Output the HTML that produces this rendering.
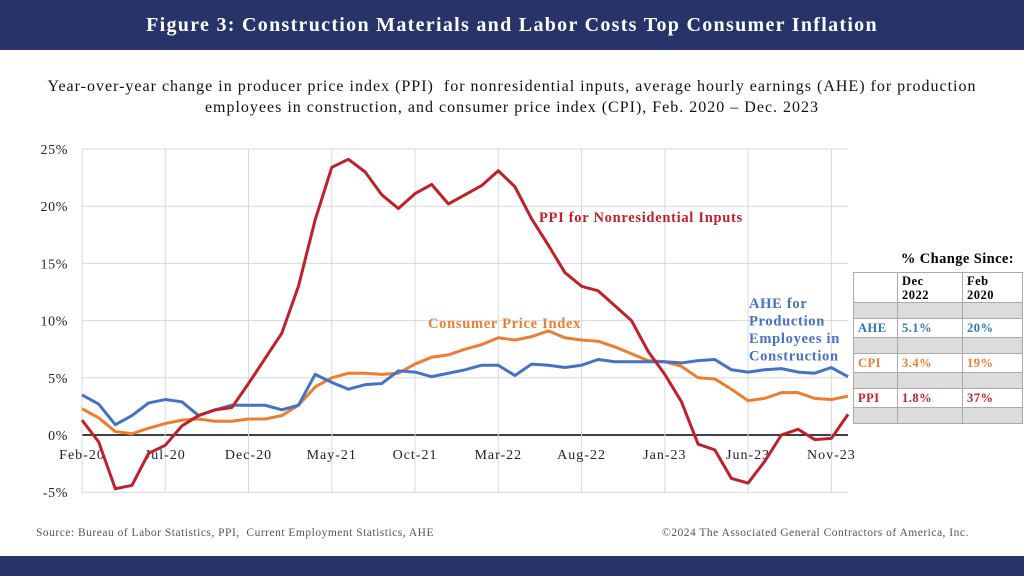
<!DOCTYPE html>
<html><head><meta charset="utf-8">
<style>
body{margin:0;width:1024px;height:576px;background:#fff;position:relative;overflow:hidden;font-family:"Liberation Serif",serif;}
.hdr{position:absolute;left:0;top:0;width:1024px;height:50px;background:#273469;color:#fff;font-weight:bold;font-size:20px;letter-spacing:1.3px;text-align:center;line-height:50px;}
.ftr{position:absolute;left:0;top:556px;width:1024px;height:20px;background:#273469;}
.sub{position:absolute;left:0;top:76px;width:1024px;text-align:center;font-size:16px;letter-spacing:1px;line-height:21px;color:#111;}
.src{position:absolute;top:527px;font-size:11.5px;letter-spacing:0.5px;color:#555;}
table{position:absolute;left:853px;top:272px;border-collapse:collapse;font-size:12.5px;letter-spacing:0.5px;font-weight:bold;}
td{border:1px solid #aaa;padding:0 4px;height:15px;}
.g td{background:#dcdcdc;}
</style></head><body>
<div class="hdr">Figure 3: Construction Materials and Labor Costs Top Consumer Inflation</div>
<div class="sub">Year-over-year change in producer price index (PPI)&nbsp; for nonresidential inputs, average hourly earnings (AHE) for production<br>employees in construction, and consumer price index (CPI), Feb. 2020 – Dec. 2023</div>
<svg id="chart" width="1024" height="576" style="position:absolute;left:0;top:0"></svg>
<div style="position:absolute;left:853px;top:251px;width:161px;text-align:right;font-weight:bold;font-size:14.5px;letter-spacing:0.4px">% Change Since:</div>
<table>
<tr style="height:30px"><td style="width:35px"></td><td style="width:56px;line-height:14px">Dec<br>2022</td><td style="width:51px;line-height:14px">Feb<br>2020</td></tr>
<tr class="g"><td></td><td></td><td></td></tr>
<tr style="color:#2e75b6;height:19px"><td>AHE</td><td>5.1%</td><td>20%</td></tr>
<tr class="g"><td></td><td></td><td></td></tr>
<tr style="color:#ed7d31;height:19px"><td>CPI</td><td>3.4%</td><td>19%</td></tr>
<tr class="g"><td></td><td></td><td></td></tr>
<tr style="color:#c0202b;height:19px"><td>PPI</td><td>1.8%</td><td>37%</td></tr>
<tr class="g"><td></td><td></td><td></td></tr>
</table>
<div class="src" style="left:36px">Source: Bureau of Labor Statistics, PPI,&nbsp; Current Employment Statistics, AHE</div>
<div class="src" style="left:662px">©2024 The Associated General Contractors of America, Inc.</div>
<div class="ftr"></div>
<script>
const xLabels=["Feb-20","Jul-20","Dec-20","May-21","Oct-21","Mar-22","Aug-22","Jan-23","Jun-23","Nov-23"];
const yTicks=[-5,0,5,10,15,20,25];
const ppi=[1.3,-0.6,-4.7,-4.4,-1.6,-0.9,0.8,1.7,2.2,2.4,4.5,6.7,8.9,13.0,18.8,23.4,24.1,23.0,21.0,19.8,21.1,21.9,20.2,21.0,21.8,23.1,21.7,18.9,16.6,14.2,13.0,12.6,11.3,10.0,7.3,5.3,2.9,-0.8,-1.3,-3.8,-4.2,-2.3,0.0,0.5,-0.4,-0.3,1.8];
const cpi=[2.3,1.5,0.3,0.1,0.6,1.0,1.3,1.4,1.2,1.2,1.4,1.4,1.7,2.6,4.2,5.0,5.4,5.4,5.3,5.4,6.2,6.8,7.0,7.5,7.9,8.5,8.3,8.6,9.1,8.5,8.3,8.2,7.7,7.1,6.5,6.4,6.0,5.0,4.9,4.0,3.0,3.2,3.7,3.7,3.2,3.1,3.4];
const ahe=[3.5,2.7,0.9,1.7,2.8,3.1,2.9,1.7,2.2,2.6,2.6,2.6,2.2,2.6,5.3,4.6,4.0,4.4,4.5,5.6,5.5,5.1,5.4,5.7,6.1,6.1,5.2,6.2,6.1,5.9,6.1,6.6,6.4,6.4,6.4,6.4,6.3,6.5,6.6,5.7,5.5,5.7,5.8,5.5,5.4,5.9,5.1];
const X0=82,X1=848,Y0=435,PER=11.44;
const n=ppi.length;
const xs=i=>X0+(X1-X0)*i/(n-1);
const ys=v=>Y0-v*PER;
const svg=document.getElementById('chart');const NS="http://www.w3.org/2000/svg";
function mk(t,a){const e=document.createElementNS(NS,t);for(const k in a)e.setAttribute(k,a[k]);svg.appendChild(e);return e;}
yTicks.forEach(v=>{
 const l=mk('line',{x1:X0,x2:X1,y1:ys(v),y2:ys(v),stroke:v===0?'#000':'#d9d9d9','stroke-width':v===0?1.5:1});
 
 
 const t=mk('text',{x:68,y:ys(v)+5,'text-anchor':'end','font-size':14,'letter-spacing':0.6,fill:'#222','font-family':'Liberation Serif, serif'});
 t.textContent=v+'%';
 
 
});
xLabels.forEach((s,j)=>{
 const x=xs(j*5);
 const l=mk('line',{x1:x,x2:x,y1:ys(25),y2:ys(-5),stroke:'#d9d9d9','stroke-width':1});
 
 
 const t=mk('text',{x:x,y:459,'text-anchor':'middle','font-size':14,'letter-spacing':1,fill:'#222','font-family':'Liberation Serif, serif'});
 t.textContent=s;
 
 
});
function line(arr,c,name){
 const p=mk('polyline',{points:arr.map((v,i)=>xs(i)+','+ys(v)).join(' '),fill:'none',stroke:c,'stroke-width':3,'stroke-linejoin':'round'});
 
 
}
line(cpi,'#ed7d31','cpi-line');
line(ahe,'#4472c4','ahe-line');
line(ppi,'#c0202b','ppi-line');
function lab(txt,x,y,c,name){const t=mk('text',{x:x,y:y,'font-size':14.5,'letter-spacing':0.7,'font-weight':'bold',fill:c,'font-family':'Liberation Serif, serif'});t.textContent=txt;
 
 }
lab('PPI for Nonresidential Inputs',539,222,'#c0202b','ppi-label');
lab('Consumer Price Index',428,328,'#ed7d31','cpi-label');
['AHE for','Production','Employees in','Construction'].forEach((s,i)=>lab(s,749,308+i*17.5,'#4472c4','ahe-label'));
</script>
</body></html>
